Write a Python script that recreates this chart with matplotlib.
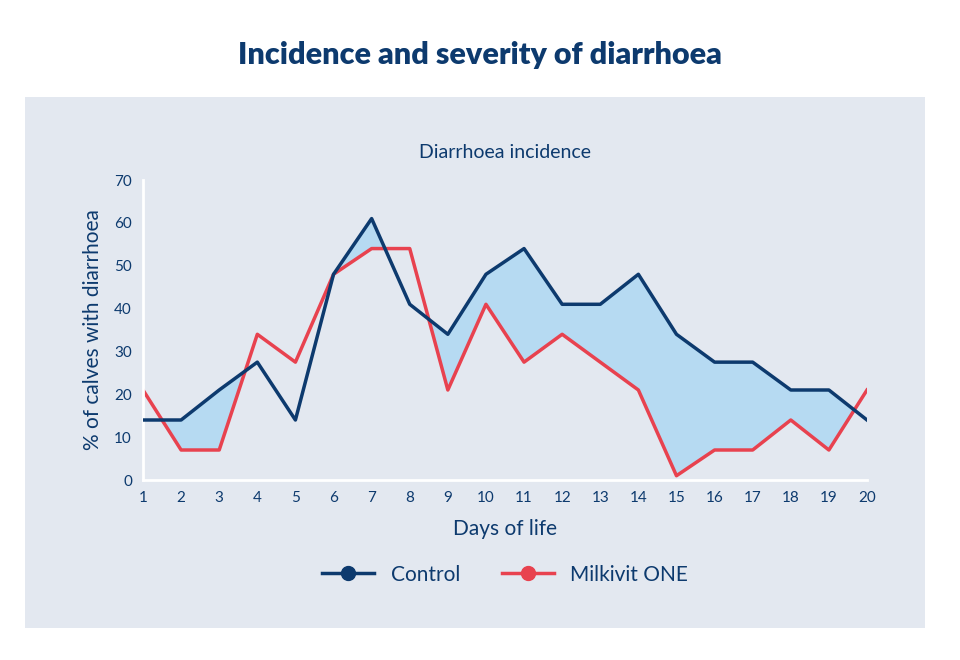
import numpy as np
import matplotlib.pyplot as plt

days = list(range(1, 21))
control = [14, 14, 21, 27.5, 14, 48, 61, 41, 34, 48, 54, 41, 41, 48, 34, 27.5, 27.5, 21, 21, 14]
milkivit = [21, 7, 7, 34, 27.5, 48, 54, 54, 21, 41, 27.5, 34, 27.5, 21, 1, 7, 7, 14, 7, 21]

navy = '#0d3a6e'
red = '#e8424f'
panel = '#e3e8f0'
plt.rcParams['font.family'] = ['Lato', 'DejaVu Sans']

fig = plt.figure(figsize=(9.6, 6.6), dpi=100)
bg = fig.add_axes([25 / 960, 1 - 628 / 660, 900 / 960, 531 / 660], zorder=0)
bg.set_facecolor(panel)
bg.axis('off')
bg.add_patch(plt.Rectangle((0, 0), 1, 1, color=panel, transform=bg.transAxes))
fig.text(0.5, 1 - 55 / 660, 'Incidence and severity of diarrhoea', ha='center', va='center',
         fontsize=22, fontweight='heavy', color=navy)

ax = fig.add_axes([143 / 960, 1 - 480 / 660, 724 / 960, 300 / 660], zorder=2)
ax.set_facecolor('none')
ax.fill_between(days, control, milkivit, where=np.array(control) > np.array(milkivit),
                interpolate=True, color='#b6daf2', zorder=1)
ax.plot(days, control, color=navy, lw=2.5, label='Control', zorder=3)
ax.plot(days, milkivit, color=red, lw=2.5, label='Milkivit ONE', zorder=2)
ax.set_xlim(1, 20)
ax.set_ylim(0, 70)
ax.set_xticks(days)
ax.set_yticks(range(0, 71, 10))
ax.tick_params(colors=navy, labelsize=11, length=0, pad=8)
for s in ['top', 'right']:
    ax.spines[s].set_visible(False)
for s in ['left', 'bottom']:
    ax.spines[s].set_color('white')
    ax.spines[s].set_linewidth(2)
ax.set_title('Diarrhoea incidence', color=navy, fontsize=14, pad=16)
ax.set_xlabel('Days of life', color=navy, fontsize=15, labelpad=10)
ax.set_ylabel('% of calves with diarrhoea', color=navy, fontsize=15, labelpad=8)

handles = [plt.Line2D([], [], color=c, lw=2.5, marker='o', markersize=10) for c in (navy, red)]
ax.legend(handles, ['Control', 'Milkivit ONE'], loc='upper center', bbox_to_anchor=(0.5, -0.22),
          ncol=2, frameon=False, fontsize=15, labelcolor=navy, handlelength=2.5, columnspacing=2)

fig.savefig('out.png', dpi=100)
